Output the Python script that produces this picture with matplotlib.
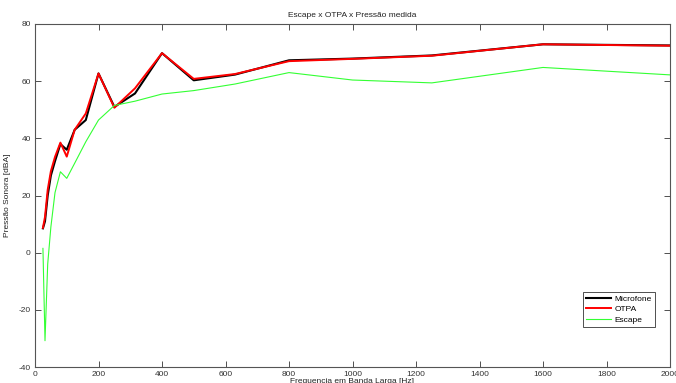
import matplotlib
matplotlib.use('Agg')
import matplotlib.pyplot as plt

# third-octave band centres [Hz]
freq = [25, 31.5, 40, 50, 63, 80, 100, 125, 160, 200, 250, 315, 400, 500,
        630, 800, 1000, 1250, 1600, 2000]

microfone = [8.5, 11, 20, 27, 32, 38, 36, 43, 46.4, 62.7, 51, 55.7, 69.8, 60.3,
             62.3, 67.3, 67.9, 69, 72.9, 72.5]
otpa = [8.7, 12.5, 22, 28.5, 33.5, 38.5, 33.6, 43, 48.7, 62.7, 50.7, 57.5, 69.8, 60.8,
        62.5, 67, 67.8, 68.9, 72.9, 72.4]
escape = [1.5, -30.8, -4, 9, 21, 28.3, 26, 31.3, 38.8, 46.4, 51.5, 53, 55.5, 56.7,
          59, 63, 60.4, 59.4, 64.8, 62.2]

plt.rcParams['font.family'] = ['Liberation Sans', 'DejaVu Sans']
plt.rcParams['font.size'] = 6
plt.rcParams['axes.unicode_minus'] = False

fig = plt.figure(figsize=(6.76, 3.83), dpi=100)
ax = fig.add_axes([35 / 676, 1 - 367 / 383, 635 / 676, 343 / 383])

ax.plot(freq, microfone, color='black', lw=1.5, label='Microfone')
ax.plot(freq, otpa, color='red', lw=1.4, label='OTPA')
ax.plot(freq, escape, color='#33ff33', lw=0.8, label='Escape')

ax.set_xlim(0, 2000)
ax.set_ylim(-40, 80)
ax.set_xticks(range(0, 2001, 200))
ax.set_yticks(range(-40, 81, 20))
ax.tick_params(direction='in', top=True, right=True, length=4, width=0.6,
               colors='#333333', labelsize=6, pad=3)
for s in ax.spines.values():
    s.set_color('#555555')
    s.set_linewidth(0.8)

ax.set_title('Escape x OTPA x Pressão medida', fontsize=6, color='#222222', pad=5)
ax.set_xlabel('Frequencia em Banda Larga [Hz]', fontsize=6, color='#222222')
ax.set_ylabel('Pressão Sonora [dBA]', fontsize=6, color='#222222')
ax.xaxis.set_label_coords(0.5, -(378 - 367) / 343)
ax.yaxis.set_label_coords(-(35 - 11) / 635, 0.5)

leg = ax.legend(loc='lower right', bbox_to_anchor=((655 - 35) / 635, (367 - 327) / 343),
                borderaxespad=0, fontsize=6,
                fancybox=False, framealpha=1, edgecolor='#333333',
                handlelength=3.0, borderpad=0.4, labelspacing=0.3, handletextpad=0.4)
leg.get_frame().set_linewidth(0.6)

fig.savefig('out.png', dpi=100)
